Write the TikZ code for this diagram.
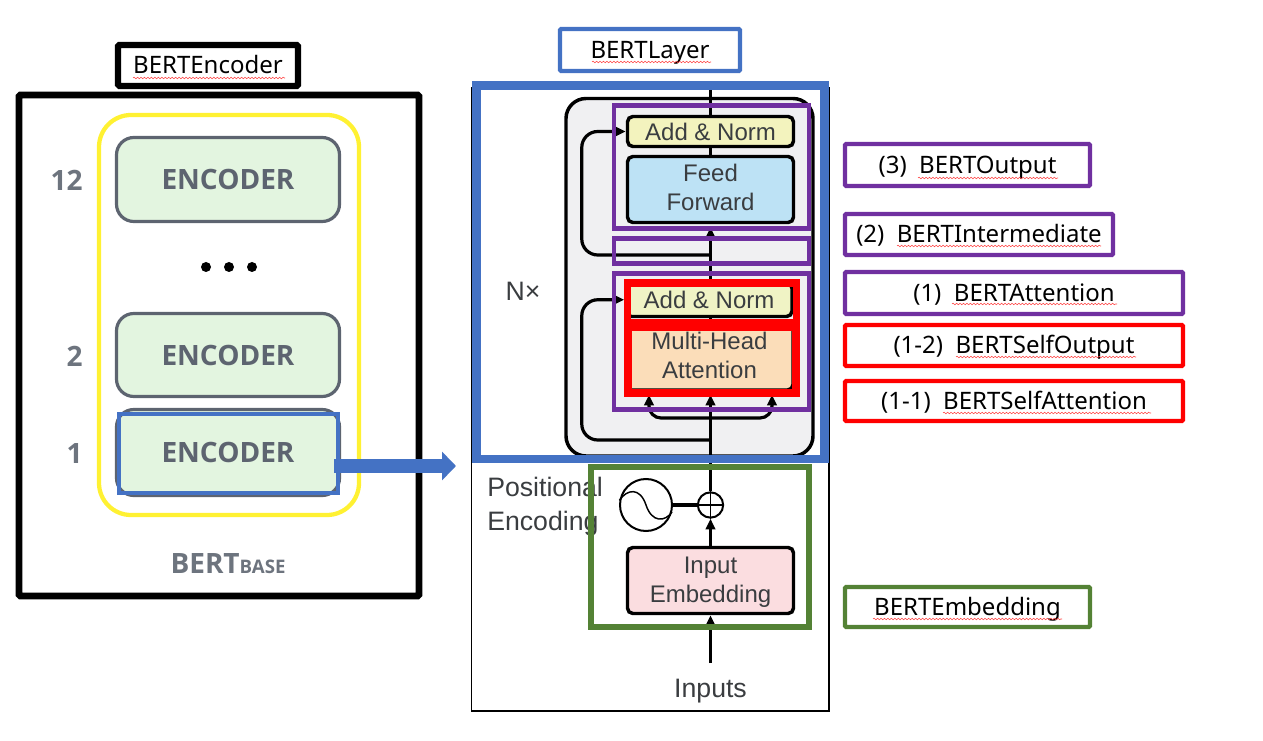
\documentclass[tikz,border=0pt]{standalone}
\usepackage{fontspec}
\setmainfont{Noto Sans}
\newfontfamily\paperfont{Liberation Sans}
\newfontfamily\slidefont{Open Sans}
\usetikzlibrary{positioning, fit, calc, arrows.meta, decorations.pathmorphing}
\definecolor{slideblue}{HTML}{4472C4}
\definecolor{slidepurple}{HTML}{7030A0}
\definecolor{slidegreen}{HTML}{548235}
\definecolor{slideyellow}{HTML}{FFF132}
\definecolor{encgray}{HTML}{5D6470}
\definecolor{encfill}{HTML}{E3F5E0}
\definecolor{inkgray}{HTML}{3A3D40}
\definecolor{addfill}{HTML}{F3F3BE}
\definecolor{feedfill}{HTML}{BDE2F5}
\definecolor{multifill}{HTML}{FBDDB9}
\definecolor{embedfill}{HTML}{FBDDE0}
\definecolor{layerfill}{HTML}{F0F0F2}

\begin{document}
\begin{tikzpicture}[x=0.75pt, y=-0.75pt,
		 boxtext/.style={label={[inner sep=0, align=center, text height=12.5pt, text depth=0pt, font=\fontsize{18}{22}\selectfont]center:#1}},
		 enctext/.style={label={[inner sep=0, font=\slidefont\bfseries\fontsize{21}{25}\selectfont, text=encgray]center:#1}},
		 papertextin/.style 2 args={label={[inner sep=0, yshift=#2, align=center, font=\paperfont\fontsize{18}{21.75}\selectfont, text=inkgray]center:#1}},
		 namebox/.style={draw, inner sep=0, line width=3.3pt, rounded corners=1pt},
		 overlaybox/.style={draw, inner sep=0, line width=#1},
		 encbox/.style={draw=encgray, fill=encfill, line width=2.4pt, rounded corners=13pt, inner sep=0},
		 enclabel/.style={inner sep=0, font=\slidefont\bfseries\fontsize{21}{25}\selectfont, text=encgray!90},
		 encdot/.style={circle, fill=black, inner sep=0, minimum size=7.5pt},
		 paperbox/.style={draw, line width=2.6pt, rounded corners=4pt, inner sep=0},
		 papertext/.style={inner sep=0, align=left, font=\paperfont\fontsize{20}{25.5}\selectfont, text=inkgray},
		 flow/.style={line width=2.4pt, -{Triangle[length=8pt, width=7pt]}},
		 plainflow/.style={line width=2.4pt},
		 squiggle/.style={draw=red!75, line width=0.4pt, decorate, decoration={snake, segment length=2.6pt, amplitude=0.6pt}},
		 blockarrow/.style={draw=slideblue, line width=10.5pt, -{Triangle[length=10.5pt, width=21pt]}} ]
	\useasboundingbox (0,0) rectangle (1263,741);

	% left panel
	\node[namebox, line width=4.6pt, boxtext=BERTEncoder, fit={(118,45) (298,86)}] (encodername) {};
	\node[overlaybox=5pt, rounded corners=1pt, fit={(19,95) (419,596)}] (bertframe) {};
	\node[overlaybox=3.2pt, draw=slideyellow, rounded corners=24pt, fit={(99,115) (359,515)}] (stack) {};
	\foreach \n/\ya/\yb in {12/137.5/221.5, 2/313.5/396.5, 1/409.5/495.5} {
		\node[encbox, enctext=ENCODER, fit={(116.5,\ya) (339.5,\yb)}] (enc\n) {};
		\node[enclabel, left=24pt of enc\n, yshift=-0.75pt] (num\n) {\n};
	}
	\foreach \x in {206,229,252}
		\node[encdot] (dot\x) at (\x,267) {};
	\node[enclabel] (bertbase) at (228,564) {BERT{\fontsize{14}{16}\selectfont BASE}};
	\node[overlaybox=3.6pt, draw=slideblue, fit={(119,414) (338,493)}] (encselect) {};

	% paper figure
	\node[overlaybox=1.1pt, fit={(471.5,88) (829,711)}] (paperframe) {};
	\node[draw, fill=layerfill, line width=2.6pt, rounded corners=15pt, inner sep=0, fit={(566,98.5) (813,456)}] (layer) {};

	\node[paperbox, fill=addfill, papertextin={Add \& Norm}{0pt}, fit={(627.5,116.5) (793.5,146.5)}] (addtop) {};
	\node[paperbox, fill=feedfill, papertextin={Feed\\Forward}{1.5pt}, fit={(627.5,156.5) (793.5,222.5)}] (feed) {};
	\node[paperbox, fill=addfill!80!encfill, papertextin={Add \& Norm}{0pt}, fit={(626,283) (792,316.5)}] (addlow) {};
	\node[paperbox, fill=multifill, papertextin={Multi-Head\\Attention}{1.5pt}, fit={(626,325) (793,390)}] (multi) {};
	\node[paperbox, fill=embedfill, papertextin={Input\\Embedding}{-1pt}, fit={(627.5,547.5) (793.5,613.5)}] (embed) {};

	\node[papertext] (nx) at (523,291) {N×};
	\node[papertext, anchor=west] (posenc) at (487,506.5) {Positional\\Encoding};
	\node[papertext] (inputs) at (710.5,691) {Inputs};
	\node[draw, circle, line width=1.5pt, inner sep=0, minimum size=39pt] (sine) at (646,505) {};
	\node[draw, circle, line width=1.5pt, inner sep=0, minimum size=19pt] (plus) at (710.5,505) {};
	\draw[line width=1.1pt] (plus.north) -- (plus.south) (plus.west) -- (plus.east);
	\draw[line width=1.1pt] (sine.170) .. controls (627,489) and (640,487) .. (646,505) .. controls (652,523) and (665,522) .. (sine.-15);

	\coordinate (layertop) at (710.5,88);
	\coordinate (inputstart) at (710.5,663);
	\coordinate (skiptop) at (710.5,255);
	\coordinate (skiplow) at (710.5,440);
	\coordinate (multisplit) at (710.5,418);
	\draw[plainflow] (layertop) -- (addtop);
	\draw[plainflow] (addtop) -- (feed);
	\draw[flow] (addlow.north -| feed.south) -- ($(feed.south)+(0,3)$);
	\draw[plainflow] (addlow.south -| feed.south) -- (multi.north -| feed.south);
	\draw[flow] (plus.north) -- ($(feed.south |- multi.south)+(0,3)$);
	\draw[flow, rounded corners=12pt] (skiptop) -| ($(addtop.west)+(-44,0)$) -- (addtop.west);
	\draw[flow, rounded corners=12pt] (skiplow) -| ($(addlow.west)+(-42.5,0)$) -- (addlow.west);
	\foreach \x in {-61.5,61.5}
		\draw[flow, rounded corners=9pt] (multisplit) -| ($(feed.south |- multi.south)+(\x,3)$);
	\draw[plainflow] (sine) -- (plus);
	\draw[flow] (embed) -- (plus);
	\draw[flow] (inputstart) -- (embed);

	% overlays
	\node[overlaybox=6.5pt, draw=slideblue, fit={(476.5,85.5) (824.5,459)}] (layerbox) {};
	\node[overlaybox=3.7pt, draw=slidepurple, fit={(614,105.5) (809,228.5)}] (outputbox) {};
	\node[overlaybox=3.7pt, draw=slidepurple, fit={(614,238.5) (809,263.5)}] (intermediatebox) {};
	\node[overlaybox=3.7pt, draw=slidepurple, fit={(614,273.5) (809,409.5)}] (attentionbox) {};
	\node[overlaybox=5.5pt, draw=red, fit={(627.6,283) (796.5,323)}] (selfoutputbox) {};
	\node[overlaybox=6pt, draw=red, fit={(628,327) (795.5,392.5)}] (selfattentionbox) {};
	\node[overlaybox=3.8pt, draw=slidegreen, fit={(591,467) (809,627)}] (embeddingbox) {};

	\coordinate (blockend) at (456,466);
	\draw[blockarrow] ($(encselect.east)+(-6,12.5)$) -- (blockend);

	% names on the right
	\node[namebox, draw=slideblue, boxtext=BERTLayer, fit={(560,29) (740,71)}] (layername) {};
	\node[namebox, draw=slidepurple, boxtext={(3)~ BERTOutput}, fit={(845,144) (1090,186)}] (outputname) {};
	\node[namebox, draw=slidepurple, boxtext={(2)~ BERTIntermediate}, fit={(845,214) (1113,255)}] (intermediatename) {};
	\node[namebox, draw=slidepurple, boxtext={(1)~ BERTAttention}, fit={(845,272) (1183,314)}] (attentionname) {};
	\node[namebox, draw=red, boxtext={(1-2)~ BERTSelfOutput}, fit={(845,325) (1183,366)}] (selfoutputname) {};
	\node[namebox, draw=red, boxtext={(1-1)~ BERTSelfAttention}, fit={(845,381) (1183,421)}] (selfattentionname) {};
	\node[namebox, draw=slidegreen, boxtext=BERTEmbedding, fit={(845,587) (1090,627)}] (embeddingname) {};

	\draw[squiggle] (133,78) -- (285,78);
	\draw[squiggle] (592,62) -- (711,62);
	\draw[squiggle] (918,178) -- (1058,178);
	\draw[squiggle] (897,246) -- (1101,246);
	\draw[squiggle] (952,304) -- (1117,304);
	\draw[squiggle] (956,357) -- (1136,357);
	\draw[squiggle] (943,413) -- (1151,413);
	\draw[squiggle] (873,619) -- (1062,619);
\end{tikzpicture}
\end{document}
